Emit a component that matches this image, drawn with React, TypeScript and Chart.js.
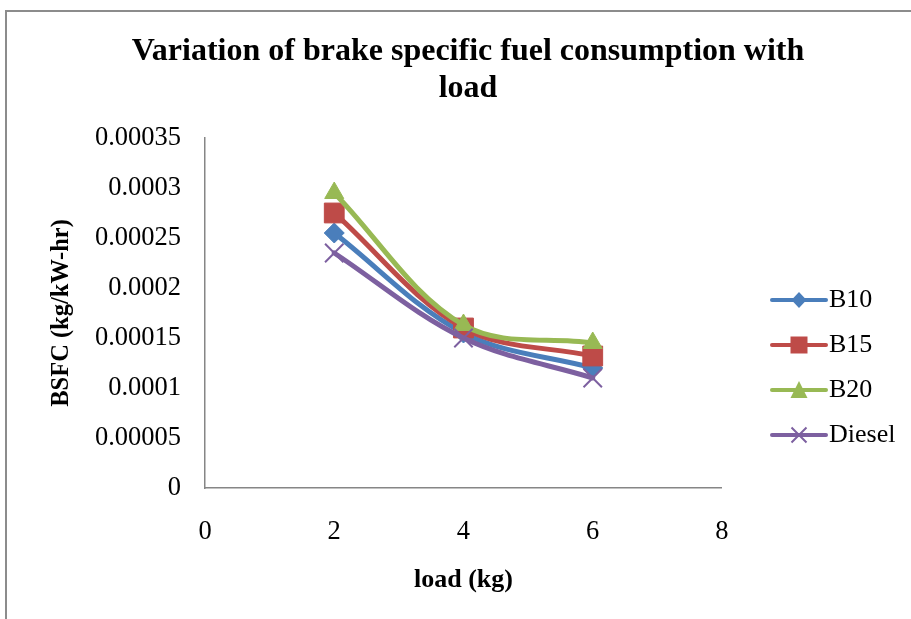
import React, { useEffect, useRef } from 'react';
import { Chart, registerables } from 'chart.js';

Chart.register(...registerables);

const titleLines = ['Variation of brake specific fuel consumption with', 'load'];
const xAxisTitle = 'load (kg)';
const yAxisTitle = 'BSFC (kg/kW-hr)';
const seriesNames = ['B10', 'B15', 'B20', 'Diesel'];
const loads = [2, 4, 6];
const b10 = [0.000255, 0.000155, 0.00012];
const b15 = [0.000275, 0.00016, 0.000132];
const b20 = [0.000295, 0.000163, 0.000145];
const diesel = [0.000235, 0.00015, 0.00011];
const xTickLabels = ['0', '2', '4', '6', '8'];
const yTickLabels = ['0', '0.00005', '0.0001', '0.00015', '0.0002', '0.00025', '0.0003', '0.00035'];

const colors = ['#4A7EBB', '#BE4B48', '#98B954', '#7D60A0'];
const markers = ['rectRot', 'rect', 'triangle', 'crossRot'];
const radii = [10, 14, 11, 13];
const FONT = "'Liberation Serif', 'Times New Roman', serif";

function legendIcon(color: string, marker: string): HTMLCanvasElement {
  const c = document.createElement('canvas');
  c.width = 121;
  c.height = 28;
  const g = c.getContext('2d')!;
  const cy = 14;
  const x0 = 54;
  const x1 = 108;
  const cx = (x0 + x1) / 2;
  g.strokeStyle = color;
  g.fillStyle = color;
  g.lineWidth = 4;
  g.lineCap = 'round';
  g.beginPath();
  g.moveTo(x0, cy);
  g.lineTo(x1, cy);
  g.stroke();
  g.beginPath();
  if (marker === 'rectRot') {
    g.moveTo(cx - 7.5, cy);
    g.lineTo(cx, cy - 8);
    g.lineTo(cx + 7.5, cy);
    g.lineTo(cx, cy + 8);
    g.closePath();
    g.fill();
  } else if (marker === 'rect') {
    g.rect(cx - 8.5, cy - 8.5, 17, 17);
    g.fill();
  } else if (marker === 'triangle') {
    g.moveTo(cx, cy - 9);
    g.lineTo(cx + 8.5, cy + 8);
    g.lineTo(cx - 8.5, cy + 8);
    g.closePath();
    g.fill();
  } else {
    g.lineWidth = 2;
    g.lineCap = 'butt';
    g.moveTo(cx - 7.5, cy - 7.5);
    g.lineTo(cx + 7.5, cy + 7.5);
    g.moveTo(cx + 7.5, cy - 7.5);
    g.lineTo(cx - 7.5, cy + 7.5);
    g.stroke();
  }
  return c;
}

const frame = {
  id: 'frame',
  beforeDraw(chart: any) {
    const ctx = chart.ctx;
    ctx.save();
    ctx.strokeStyle = '#8c8c8c';
    ctx.lineWidth = 2;
    ctx.strokeRect(6, 11, 2000, 2000);
    ctx.restore();
  },
};

export default function App() {
  const ref = useRef<HTMLCanvasElement>(null);
  useEffect(() => {
    const icons = colors.map((c, i) => legendIcon(c, markers[i]));
    const series = [b10, b15, b20, diesel];
    const chart = new Chart(ref.current!, {
      type: 'line',
      data: {
        datasets: series.map((vals, i) => ({
          label: seriesNames[i],
          data: loads.map((x, j) => ({ x, y: vals[j] })),
          borderColor: colors[i],
          backgroundColor: colors[i],
          borderWidth: 5,
          tension: 0.35,
          borderCapStyle: 'round',
          borderJoinStyle: 'round',
          pointStyle: markers[i],
          pointRadius: radii[i],
          pointHoverRadius: radii[i],
          pointBorderWidth: i === 3 ? 2 : 1,
          pointBackgroundColor: colors[i],
          pointBorderColor: colors[i],
          fill: false,
          order: 3 - i,
        })) as any,
      },
      options: {
        responsive: false,
        animation: false,
        devicePixelRatio: 1,
        layout: { padding: { left: 30.6, right: 5.6, top: 0, bottom: 0 } },
        plugins: {
          tooltip: { enabled: false },
          title: {
            display: true,
            text: titleLines,
            color: '#000',
            font: { family: FONT, size: 32, weight: 'bold', lineHeight: 1.156 },
            padding: { top: 33.5, bottom: 30.5 },
          },
          legend: {
            position: 'right',
            align: 'start',
            title: { display: true, text: '', font: { size: 10, lineHeight: 1.2 }, padding: { top: 256, bottom: 0 } },
            labels: {
              usePointStyle: true,
              pointStyleWidth: 75,
              padding: 19,
              color: '#000',
              font: { family: FONT, size: 26 },
              sort: (a: any, b: any) => a.datasetIndex - b.datasetIndex,
              generateLabels: (ch: any) => {
                const items = (Chart.defaults.plugins.legend.labels as any).generateLabels(ch);
                items.forEach((it: any) => {
                  it.pointStyle = icons[it.datasetIndex];
                });
                return items;
              },
            },
          },
        },
        scales: {
          x: {
            type: 'linear',
            min: 0,
            max: 8,
            ticks: {
              stepSize: 2,
              color: '#000',
              font: { family: FONT, size: 26.5 },
              padding: 28,
              callback: (_v: any, i: number) => xTickLabels[i],
            },
            grid: { display: false, drawTicks: false },
            border: { display: true, color: '#868686', width: 1.5 },
            title: {
              display: true,
              text: xAxisTitle,
              color: '#000',
              font: { family: FONT, size: 26, weight: 'bold' },
              padding: { top: 0, bottom: 23.4 },
            },
            afterFit: (s: any) => {
              s.height = 131;
            },
          },
          y: {
            type: 'linear',
            min: 0,
            max: 0.00035,
            ticks: {
              stepSize: 0.00005,
              color: '#000',
              font: { family: FONT, size: 26.5 },
              padding: 24,
              callback: (_v: any, i: number) => yTickLabels[i],
            },
            grid: { display: false, drawTicks: false },
            border: { display: true, color: '#868686', width: 1.5 },
            title: {
              display: true,
              text: yAxisTitle,
              color: '#000',
              font: { family: FONT, size: 24.5, weight: 'bold' },
              padding: { top: 16.7, bottom: 0 },
            },
            afterFit: (s: any) => {
              s.width = 174.4;
            },
          },
        },
      } as any,
      plugins: [frame],
    });
    return () => chart.destroy();
  }, []);
  return (
    <div style={{ position: 'absolute', left: 0, top: 0, width: 911, height: 619 }}>
      <canvas ref={ref} width={911} height={619} />
    </div>
  );
}
